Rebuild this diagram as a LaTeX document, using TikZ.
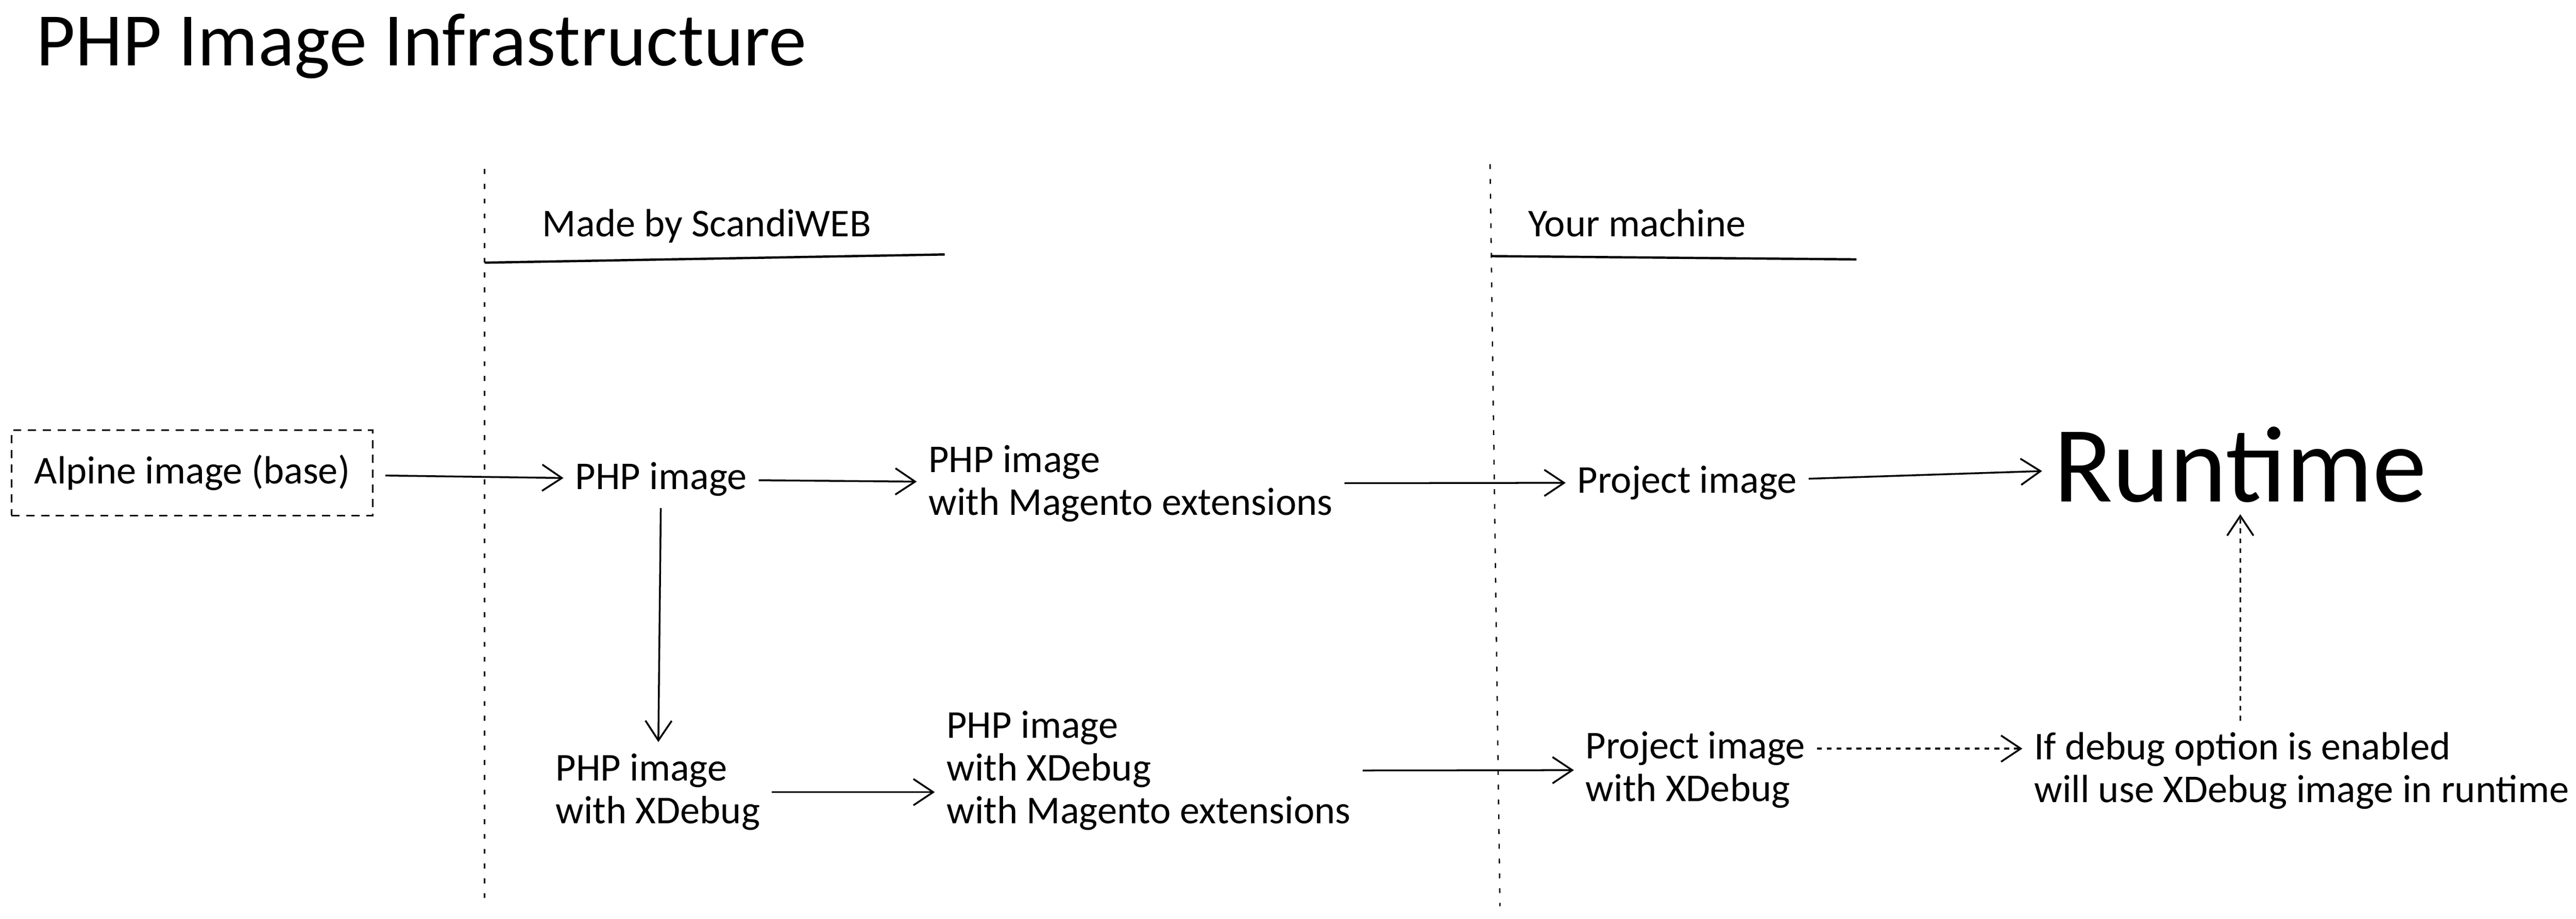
\documentclass[tikz,border=0pt]{standalone}
\usepackage{fontspec}
\setmainfont{Carlito}
\usetikzlibrary{arrows.meta}
\tikzstyle{texte} = [inner sep=0pt, align=left, font=\fontsize{24}{26}\selectfont]
\tikzstyle{titre} = [inner sep=0pt, font=\fontsize{46}{52}\selectfont]
\tikzstyle{encadre} = [texte, rectangle, draw=black, line width=1pt, dash pattern=on 5pt off 4pt, minimum height=52pt, minimum width=220pt]
\tikzstyle{fleche} = [->, line width=1.1pt, shorten <=7pt, shorten >=7pt]
\tikzstyle{separation} = [line width=0.8pt, dash pattern=on 3pt off 6pt]
\tikzstyle{souligne} = [line width=1.4pt]

\begin{document}
\begin{tikzpicture}[x=1pt, y=-1pt, >={Straight Barb[length=12pt,width=16pt]}]

        \useasboundingbox (0,0) rectangle (1568,559.5);

        \node (titre) [titre, anchor=base west] at (22,40) {PHP Image Infrastructure};
        \node (scandi) [texte, anchor=base west] at (330,144) {Made by ScandiWEB};
        \node (machine) [texte, anchor=base west] at (930,144) {Your machine};

        \draw[separation] (295,103) -- (295,548);
        \draw[separation] (907,100) -- (913,552);
        \draw[souligne] (295,160) -- (575,155);
        \draw[souligne] (908,156) -- (1130,158);

        \node (alpine) [encadre] at (117,288) {Alpine image (base)};
        \node (php) [texte, anchor=west] at (350,292) {PHP image};
        \node (magento) [texte, anchor=west] at (565,294.5) {PHP image\\with Magento extensions};
        \node (projet) [texte, anchor=west] at (960,294) {Project image};
        \node (runtime) [texte, anchor=west, font=\fontsize{66}{76}\selectfont] at (1250,283) {Runtime};

        \node (phpx) [texte, anchor=west] at (338,482.5) {PHP image\\with XDebug};
        \node (magentox) [texte, anchor=west] at (576,469.5) {PHP image\\with XDebug\\with Magento extensions};
        \node (projetx) [texte, anchor=west] at (965,469) {Project image\\with XDebug};
        \node (debug) [texte, anchor=west] at (1238,469.5) {If debug option is enabled\\will use XDebug image in runtime};

        \draw[fleche] (alpine) -- (php);
        \draw[fleche] (php) -- (magento);
        \draw[fleche] (magento) -- (projet);
        \draw[fleche] (projet) -- (runtime);
        \draw[fleche] (php) -- (phpx);
        \draw[fleche] (phpx.east) -- (phpx.east -| magentox.west);
        \draw[fleche] (magentox) -- (projetx);
        \draw[fleche, dashed] ([yshift=13pt]projetx.east) -- ([yshift=13pt]projetx.east -| debug.west);
        \draw[fleche, dashed] (runtime.south |- debug.north) -- (runtime.south);

    \end{tikzpicture}
\end{document}
